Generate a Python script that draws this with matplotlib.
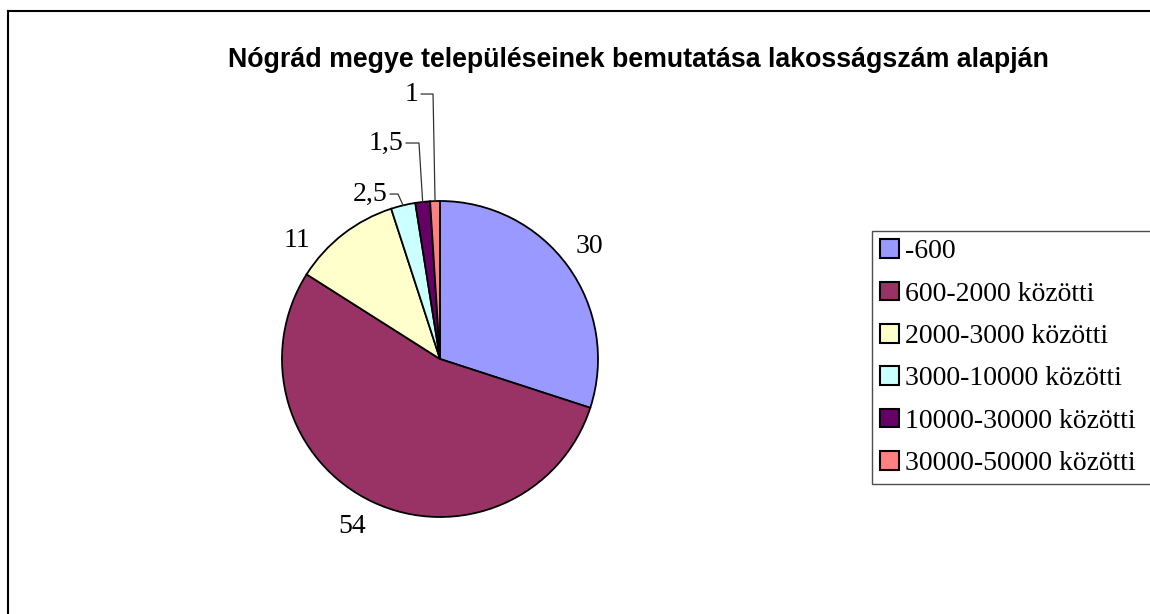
import matplotlib
matplotlib.use("Agg")
import matplotlib.pyplot as plt
from matplotlib.lines import Line2D
from matplotlib.patches import Patch
import numpy as np

title = "Nógrád megye településeinek bemutatása lakosságszám alapján"
categories = ["-600", "600-2000 közötti", "2000-3000 közötti",
              "3000-10000 közötti", "10000-30000 közötti", "30000-50000 közötti"]
values = [30, 54, 11, 2.5, 1.5, 1]
value_labels = ["30", "54", "11", "2,5", "1,5", "1"]
colors = ["#9999FF", "#993366", "#FFFFCC", "#CCFFFF", "#660066", "#FF8080"]

# label placement (axes data units, radius = 1)
label_pos = {0: (0.943, 0.709), 1: (-0.557, -1.063), 2: (-0.905, 0.753)}
# leader-label text anchor (right edge) and elbow x
leader_pos = {3: (-0.335, 1.044, -0.266), 4: (-0.234, 1.367, -0.133), 5: (-0.139, 1.677, -0.044)}

W, H = 1150, 614
fig = plt.figure(figsize=(W / 100, H / 100), dpi=100)
fig.patch.set_facecolor("white")

# chart frame (left and top edges visible)
fig.add_artist(Line2D([8 / W, 8 / W], [0, 1 - 11 / H], color="black", lw=1.5, transform=fig.transFigure))
fig.add_artist(Line2D([8 / W, 1], [1 - 11 / H, 1 - 11 / H], color="black", lw=1.5, transform=fig.transFigure))

cx, cy, r = 440, 359, 158
ax = fig.add_axes([(cx - r) / W, (H - cy - r) / H, 2 * r / W, 2 * r / H])
wedges, _ = ax.pie(values, colors=colors, startangle=90, counterclock=False,
                   wedgeprops=dict(edgecolor="black", linewidth=1.3), radius=1.0)
ax.set_xlim(-1, 1)
ax.set_ylim(-1, 1)
ax.set_aspect("auto")
ax.axis("off")

serif = ["Liberation Serif", "DejaVu Serif"]
fs = 20

for i, w in enumerate(wedges):
    if i in label_pos:
        x, y = label_pos[i]
        ax.text(x, y, value_labels[i], ha="center", va="center", fontsize=fs, family=serif, clip_on=False)
    else:
        tx, ty, ex = leader_pos[i]
        ang = np.deg2rad((w.theta1 + w.theta2) / 2)
        px, py = np.cos(ang), np.sin(ang)
        ax.text(tx, ty, value_labels[i], ha="right", va="center", fontsize=fs, family=serif, clip_on=False)
        ax.plot([tx + 0.02, ex, px], [ty, ty, py], color="#333333", lw=0.9, clip_on=False)

fig.text(638 / W, 1 - 60 / H, title, ha="center", va="center", fontsize=19.3,
         family=["Liberation Sans", "DejaVu Sans"], weight="bold")

handles = [Patch(facecolor=c, edgecolor="black", linewidth=1.5) for c in colors]
leg = fig.legend(handles, categories, loc="upper left",
                 bbox_to_anchor=(872 / W, 1 - 483 / H, 300 / W, 252 / H), mode="expand",
                 prop={"family": serif, "size": fs}, frameon=True, fancybox=False,
                 handlelength=0.66, handleheight=0.66, handletextpad=0.22,
                 labelspacing=0.62, borderpad=0.3, borderaxespad=0)
leg.get_frame().set_edgecolor("#222222")
leg.get_frame().set_linewidth(1.0)

fig.savefig("out.png", dpi=100, facecolor="white")
